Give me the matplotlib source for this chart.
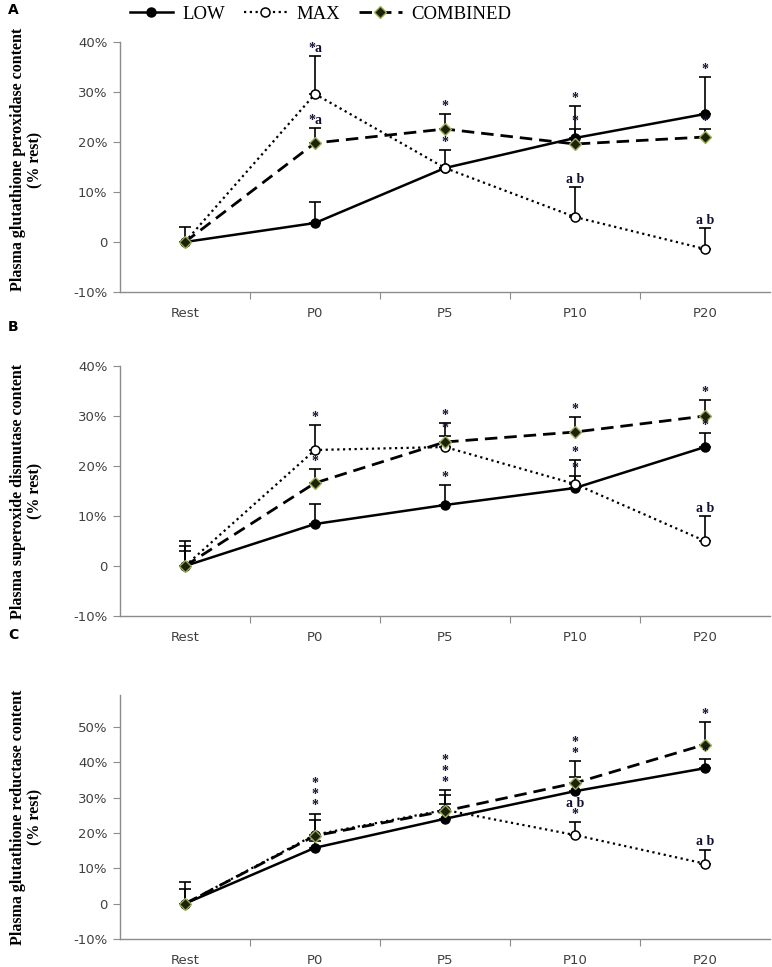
import matplotlib
matplotlib.use("Agg")
import matplotlib.pyplot as plt
from matplotlib.lines import Line2D

categories = ["Rest", "P0", "P5", "P10", "P20"]

# Panel A: glutathione peroxidase (% rest)
a_low = [0, 3.8, 14.8, 20.8, 25.6]
a_low_err = [3.0, 4.2, 3.6, 6.4, 7.4]
a_max = [0, 29.6, 14.8, 5.0, -1.4]
a_max_err = [0, 7.6, 0, 6.0, 4.2]
a_comb = [0, 19.8, 22.6, 19.6, 21.0]
a_comb_err = [0, 3.0, 3.0, 3.0, 1.6]
a_low_lab = ["", "", "*", "*", "*"]
a_max_lab = ["", "*a", "", "a b", "a b"]
a_comb_lab = ["", "*a", "*", "*", "*"]

# Panel B: superoxide dismutase (% rest)
b_low = [0, 8.4, 12.2, 15.6, 23.8]
b_low_err = [5.0, 4.0, 4.0, 2.4, 2.8]
b_max = [0, 23.2, 23.8, 16.4, 5.0]
b_max_err = [4.0, 5.0, 2.2, 4.8, 5.0]
b_comb = [0, 16.6, 24.8, 26.8, 30.0]
b_comb_err = [3.0, 2.8, 3.8, 3.0, 3.2]
b_low_lab = ["", "", "*", "*", "*"]
b_max_lab = ["", "*", "*", "*", "a b"]
b_comb_lab = ["", "*", "*", "*", "*"]

# Panel C: glutathione reductase (% rest)
c_low = [0, 15.8, 24.0, 31.8, 38.3]
c_low_err = [6.0, 2.0, 4.2, 4.0, 2.5]
c_max = [0, 19.5, 26.5, 19.4, 11.3]
c_max_err = [4.0, 5.9, 4.2, 3.7, 3.9]
c_comb = [0, 19.2, 26.2, 34.1, 45.0]
c_comb_err = [0, 4.5, 5.9, 6.2, 6.3]
c_low_lab = ["", "", "", "", "*"]
c_max_lab = ["", "*\n*\n*", "", "a b\n*", "a b"]
c_comb_lab = ["", "", "*\n*\n*", "*\n*", "*"]

a_ticks = [-10, 0, 10, 20, 30, 40]
c_ticks = [-10, 0, 10, 20, 30, 40, 50]

SERIF = "Liberation Serif"
TICKC = "#404040"
SPINEC = "#8c8c8c"

styles = {
    "LOW": dict(color="black", linestyle="-", linewidth=1.8, marker="o",
                markersize=6.5, markerfacecolor="black", markeredgecolor="black"),
    "MAX": dict(color="black", linestyle=(0, (1, 1.6)), linewidth=1.6, marker="o",
                markersize=6.5, markerfacecolor="white", markeredgecolor="black",
                markeredgewidth=1.1),
    "COMBINED": dict(color="black", linestyle=(0, (4.5, 2.5)), linewidth=2.0, marker="D",
                     markersize=6, markerfacecolor="#1c2208", markeredgecolor="#9aae5a",
                     markeredgewidth=1.0),
}


def draw_panel(ax, series, ticks, ymax, ylabel, label_y):
    x = list(range(len(categories)))
    for name, vals, errs, labs in series:
        ax.errorbar(x, vals, yerr=[[0] * len(errs), errs], fmt="none", ecolor="black",
                    elinewidth=1.2, capsize=4, capthick=1.2, zorder=2)
        ax.plot(x, vals, label=name, zorder=3, **styles[name])
        for xi, v, e, lab in zip(x, vals, errs, labs):
            if lab:
                ax.annotate(lab, (xi, v + e), xytext=(0, 1), textcoords="offset points",
                            ha="center", va="bottom", fontsize=10, fontweight="bold",
                            family=SERIF, color="#101030", linespacing=0.8, zorder=4)
    ax.set_xlim(-0.5, 4.5)
    ax.set_ylim(-10, ymax)
    ax.set_yticks(ticks)
    ax.set_yticklabels([f"{t}%" if t != 0 else "0" for t in ticks])
    ax.set_xticks([0.5, 1.5, 2.5, 3.5])
    ax.set_xticklabels([])
    ax.set_xticks(x, minor=True)
    ax.set_xticklabels(categories, minor=True)
    ax.tick_params(axis="x", which="minor", length=0, pad=11)
    ax.tick_params(axis="x", which="major", length=5, color=SPINEC)
    ax.tick_params(axis="y", length=5, color=SPINEC, pad=4)
    ax.tick_params(axis="both", which="both", labelsize=9.5, labelcolor=TICKC)
    for s in ("top", "right"):
        ax.spines[s].set_visible(False)
    for s in ("left", "bottom"):
        ax.spines[s].set_color(SPINEC)
        ax.spines[s].set_linewidth(1.0)
    ax.text(-0.143, label_y, ylabel, transform=ax.transAxes, rotation=90, ha="center",
            va="center", family=SERIF, fontweight="bold", fontsize=11.5, linespacing=1.1)


fig = plt.figure(figsize=(7.72, 9.67), dpi=100)
left, width = 120 / 772, 650 / 772
ax_a = fig.add_axes([left, 1 - 292 / 967, width, 250 / 967])
ax_b = fig.add_axes([left, 1 - 616 / 967, width, 250 / 967])
ax_c = fig.add_axes([left, 1 - 939 / 967, width, 244 / 967])

draw_panel(ax_a, [("LOW", a_low, a_low_err, a_low_lab),
                  ("MAX", a_max, a_max_err, a_max_lab),
                  ("COMBINED", a_comb, a_comb_err, a_comb_lab)],
           a_ticks, 40, "Plasma glutathione peroxidase content\n(% rest)", 0.53)
draw_panel(ax_b, [("LOW", b_low, b_low_err, b_low_lab),
                  ("MAX", b_max, b_max_err, b_max_lab),
                  ("COMBINED", b_comb, b_comb_err, b_comb_lab)],
           a_ticks, 40, "Plasma superoxide dismutase content\n(% rest)", 0.5)
draw_panel(ax_c, [("LOW", c_low, c_low_err, c_low_lab),
                  ("MAX", c_max, c_max_err, c_max_lab),
                  ("COMBINED", c_comb, c_comb_err, c_comb_lab)],
           c_ticks, 59, "Plasma glutathione reductase content\n(% rest)", 0.5)

for letter, ypx in (("A", 10), ("B", 327), ("C", 635)):
    fig.text(8 / 772, 1 - ypx / 967, letter, fontsize=10, fontweight="bold",
             ha="left", va="center")

handles = [Line2D([], [], **styles[n]) for n in ("LOW", "MAX", "COMBINED")]
fig.legend(handles, ["LOW", "MAX", "COMBINED"], loc="center", ncol=3,
           bbox_to_anchor=(0.415, 1 - 14 / 967), frameon=False, handlelength=2.3,
           columnspacing=1.0, handletextpad=0.5, prop={"family": SERIF, "size": 13.5})

fig.savefig("out.png", dpi=100)
